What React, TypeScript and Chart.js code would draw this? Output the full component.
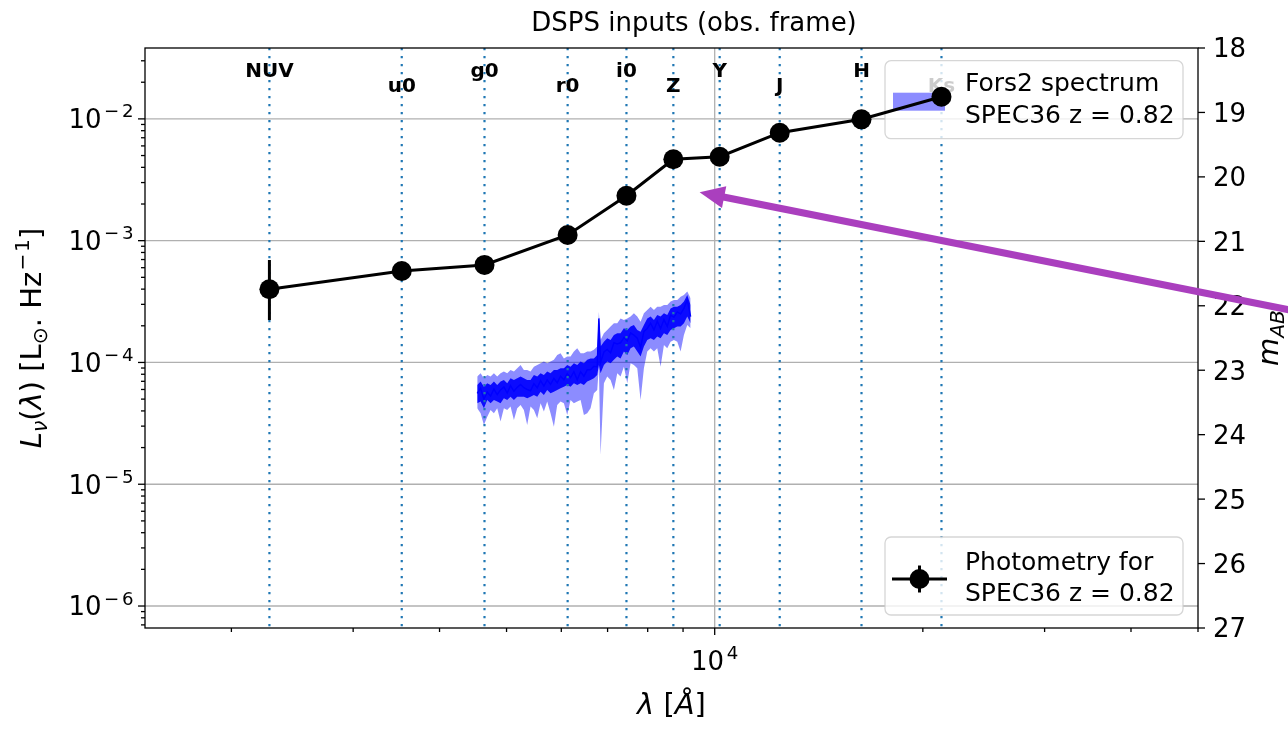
import React, { useEffect, useRef } from 'react';
import { Chart, registerables } from 'chart.js';

Chart.register(...registerables);

// ---------- axis ranges ----------
const X_MIN = 1500;
const X_MAX = 50000;
const Y_MIN = 6.6e-7;
const Y_MAX = 0.0382;
const MAG_MIN = 18;
const MAG_MAX = 27;

// ---------- filters ----------
const FILTER_NAMES = ['NUV', 'u0', 'g0', 'r0', 'i0', 'Z', 'Y', 'J', 'H', 'Ks'];
const FILTER_WL = [2270, 3527, 4646, 6128, 7454, 8714, 10167, 12418, 16305, 21280];
const FILTER_LABEL_Y = [0.0222, 0.01672, 0.0222, 0.01672, 0.0222, 0.01672, 0.0222, 0.01672, 0.0222, 0.01672];

// ---------- photometry ----------
const PHOT_LNU = [3.99e-4, 5.64e-4, 6.32e-4, 1.114e-3, 2.34e-3, 4.66e-3, 4.89e-3, 7.7e-3, 9.92e-3, 1.52e-2];
const PHOT_ERR_DN = [2.23e-4, 5.1e-4, 5.7e-4, 1.0e-3, 2.1e-3, 4.2e-3, 4.4e-3, 6.9e-3, 8.9e-3, 1.37e-2];
const PHOT_ERR_UP = [6.94e-4, 6.2e-4, 7.0e-4, 1.23e-3, 2.6e-3, 5.1e-3, 5.4e-3, 8.5e-3, 1.09e-2, 1.67e-2];

// ---------- Fors2 spectrum ----------
const SPEC_WL = [
  4535, 4586, 4637, 4689, 4741, 4794, 4847, 4901, 4956, 5011,
  5067, 5124, 5181, 5239, 5297, 5356, 5416, 5477, 5538, 5600,
  5662, 5725, 5789, 5854, 5919, 5985, 6052, 6120, 6188, 6257,
  6327, 6398, 6469, 6541, 6614, 6688, 6763, 6800, 6838, 6915,
  6992, 7070, 7149, 7229, 7309, 7391, 7474, 7557, 7641, 7727,
  7813, 7900, 7989, 8078, 8168, 8259, 8351, 8445, 8539, 8634,
  8731, 8828, 8927, 9026, 9127, 9229,
];
// central trace
const SPEC_LNU = [
  5.58e-5, 6.14e-5, 5.0e-5, 5.7e-5, 5.3e-5, 6.05e-5, 5.45e-5, 5.95e-5, 6.3e-5, 5.6e-5,
  6.45e-5, 5.8e-5, 6.25e-5, 6.6e-5, 6.2e-5, 6.0e-5, 5.85e-5, 6.7e-5, 6.2e-5, 7.1e-5,
  6.4e-5, 7.2e-5, 6.6e-5, 7.4e-5, 6.8e-5, 7.7e-5, 7.2e-5, 8.1e-5, 7.5e-5, 8.4e-5,
  7.2e-5, 8.4e-5, 7.7e-5, 8.7e-5, 8.7e-5, 9.3e-5, 9.2e-5, 2.3e-4, 1.0e-4, 1.22e-4,
  1.28e-4, 1.2e-4, 1.45e-4, 1.42e-4, 1.45e-4, 1.6e-4, 1.5e-4, 1.75e-4, 1.68e-4, 1.58e-4,
  1.33e-4, 1.8e-4, 1.9e-4, 2.1e-4, 1.85e-4, 2.18e-4, 1.9e-4, 2.25e-4, 1.98e-4, 2.45e-4,
  2.35e-4, 2.6e-4, 2.5e-4, 2.78e-4, 3.26e-4, 2.38e-4,
];
// envelope of the noisy flux trace
const SPEC_TRACE_UP = [
  6.54e-5, 6.96e-5, 6.33e-5, 6.75e-5, 6.54e-5, 6.96e-5, 6.54e-5, 6.96e-5, 7.18e-5, 6.75e-5,
  7.41e-5, 7.18e-5, 7.41e-5, 7.65e-5, 7.41e-5, 7.18e-5, 7.18e-5, 7.9e-5, 7.65e-5, 8.15e-5,
  7.9e-5, 8.41e-5, 8.15e-5, 8.68e-5, 8.68e-5, 8.96e-5, 8.96e-5, 9.54e-5, 9.24e-5, 9.84e-5,
  9.54e-5, 1.02e-4, 9.84e-5, 1.05e-4, 1.08e-4, 1.08e-4, 1.15e-4, 2.3e-4, 1.35e-4, 1.48e-4,
  1.58e-4, 1.53e-4, 1.68e-4, 1.74e-4, 1.74e-4, 1.91e-4, 1.85e-4, 1.97e-4, 2.03e-4, 1.85e-4,
  1.79e-4, 2.03e-4, 2.3e-4, 2.38e-4, 2.23e-4, 2.45e-4, 2.38e-4, 2.53e-4, 2.45e-4, 2.78e-4,
  2.87e-4, 2.87e-4, 2.97e-4, 3.16e-4, 3.58e-4, 2.97e-4,
];
const SPEC_TRACE_DN = [
  4.62e-5, 4.77e-5, 4.2e-5, 4.92e-5, 4.62e-5, 4.92e-5, 4.77e-5, 4.62e-5, 5.08e-5, 4.92e-5,
  5.24e-5, 4.92e-5, 5.24e-5, 5.24e-5, 5.24e-5, 5.08e-5, 5.24e-5, 5.41e-5, 5.24e-5, 5.76e-5,
  5.41e-5, 5.95e-5, 5.58e-5, 5.76e-5, 5.95e-5, 6.14e-5, 6.33e-5, 6.54e-5, 6.33e-5, 6.75e-5,
  6.54e-5, 6.75e-5, 6.54e-5, 6.96e-5, 7.18e-5, 7.41e-5, 7.9e-5, 9.54e-5, 8.15e-5, 9.54e-5,
  1.02e-4, 9.84e-5, 1.05e-4, 1.12e-4, 1.08e-4, 1.23e-4, 1.15e-4, 1.31e-4, 1.35e-4, 1.23e-4,
  1.12e-4, 1.35e-4, 1.53e-4, 1.58e-4, 1.53e-4, 1.63e-4, 1.58e-4, 1.74e-4, 1.68e-4, 1.85e-4,
  1.91e-4, 1.97e-4, 1.97e-4, 2.1e-4, 2.38e-4, 2.1e-4,
];
// error band
const SPEC_ERR_UP = [
  7.65e-5, 8.15e-5, 7.41e-5, 7.9e-5, 7.65e-5, 8.15e-5, 7.65e-5, 8.15e-5, 8.41e-5, 8.15e-5,
  8.68e-5, 8.41e-5, 8.96e-5, 9.54e-5, 8.68e-5, 8.68e-5, 8.41e-5, 9.24e-5, 9.54e-5, 9.84e-5,
  1.02e-4, 9.84e-5, 1.02e-4, 1.05e-4, 1.15e-4, 1.19e-4, 1.08e-4, 1.12e-4, 1.12e-4, 1.23e-4,
  1.31e-4, 1.19e-4, 1.19e-4, 1.23e-4, 1.23e-4, 1.27e-4, 1.35e-4, 2.61e-4, 1.53e-4, 1.74e-4,
  1.85e-4, 1.97e-4, 2.1e-4, 2.1e-4, 2.3e-4, 2.23e-4, 2.3e-4, 2.38e-4, 2.53e-4, 2.38e-4,
  2.16e-4, 2.53e-4, 2.7e-4, 2.87e-4, 2.7e-4, 2.87e-4, 2.87e-4, 2.97e-4, 2.97e-4, 3.16e-4,
  3.26e-4, 3.26e-4, 3.47e-4, 3.58e-4, 3.82e-4, 3.36e-4,
];
const SPEC_ERR_DN = [
  4.2e-5, 3.82e-5, 3.07e-5, 3.59e-5, 4.07e-5, 3.82e-5, 4.2e-5, 3.27e-5, 4.2e-5, 4.07e-5,
  4.34e-5, 3.37e-5, 4.2e-5, 4.48e-5, 4.07e-5, 3.07e-5, 4.34e-5, 4.07e-5, 3.48e-5, 4.62e-5,
  3.95e-5, 4.77e-5, 3.82e-5, 2.97e-5, 4.48e-5, 4.77e-5, 4.62e-5, 3.71e-5, 4.92e-5, 4.62e-5,
  4.77e-5, 4.92e-5, 3.71e-5, 3.82e-5, 4.2e-5, 5.58e-5, 5.95e-5, 9.24e-5, 1.74e-5, 6.75e-5,
  7.65e-5, 7.18e-5, 5.95e-5, 8.15e-5, 7.65e-5, 9.24e-5, 6.75e-5, 9.84e-5, 9.54e-5, 8.96e-5,
  4.92e-5, 8.96e-5, 1.23e-4, 1.31e-4, 1.23e-4, 1.31e-4, 9.24e-5, 1.39e-4, 1.31e-4, 1.48e-4,
  1.53e-4, 1.48e-4, 1.23e-4, 1.68e-4, 2.03e-4, 1.91e-4,
];

// ---------- ticks ----------
const Y_MAJOR = [1e-6, 1e-5, 1e-4, 1e-3, 1e-2];
const Y_MAJOR_EXP = ['6', '5', '4', '3', '2'];
const X_MAJOR = [10000];
const X_MAJOR_EXP = ['4'];
const X_MINOR = [2000, 3000, 4000, 5000, 6000, 7000, 8000, 9000, 20000, 30000, 40000, 50000];
const MAG_TICKS = [18, 19, 20, 21, 22, 23, 24, 25, 26, 27];

// ---------- texts ----------
const TITLE = 'DSPS inputs (obs. frame)';
const LEGEND_SPEC = ['Fors2 spectrum', 'SPEC36 z = 0.82'];
const LEGEND_PHOT = ['Photometry for', 'SPEC36 z = 0.82'];

// ---------- annotation arrow (data coords) ----------
const ARROW_TAIL = { wl: 98000, lnu: 1.78e-4 };
const ARROW_TIP = { wl: 9510, lnu: 2.5e-3 };

const FONT = '"DejaVu Sans"';
const SPEC_BLUE = '#0000ff';
const TRACE_BLUE = 'rgba(0,0,255,0.92)';
const BAND_BLUE = 'rgba(0,0,255,0.45)';
const FILTER_BLUE = '#1f77b4';
const ARROW_COLOR = '#aa3fbe';
const MINUS = '\u2212';

type Seg = { t: string; st?: string; sc?: number; dy?: number; pre?: number; post?: number };

function fontOf(s: Seg, size: number) {
  const st = s.st === 'i' ? 'italic ' : s.st === 'b' ? 'bold ' : '';
  return `${st}${size * (s.sc ?? 1)}px ${FONT}`;
}

function drawRich(ctx: CanvasRenderingContext2D, segs: Seg[], x: number, y: number, align: string, size: number) {
  const widths = segs.map((s) => {
    ctx.font = fontOf(s, size);
    return ctx.measureText(s.t).width + ((s.pre ?? 0) + (s.post ?? 0)) * size;
  });
  const total = widths.reduce((a, b) => a + b, 0);
  let cx = align === 'center' ? x - total / 2 : align === 'right' ? x - total : x;
  ctx.textAlign = 'left';
  ctx.textBaseline = 'alphabetic';
  segs.forEach((s, i) => {
    ctx.font = fontOf(s, size);
    ctx.fillText(s.t, cx + (s.pre ?? 0) * size, y + (s.dy ?? 0) * size);
    cx += widths[i];
  });
}

function sciSegs(exp: string, negative: boolean): Seg[] {
  const segs: Seg[] = [{ t: '10' }];
  if (negative) {
    segs.push({ t: MINUS, sc: 0.7, dy: -0.42, pre: 0.1, post: 0.1 });
    segs.push({ t: exp, sc: 0.7, dy: -0.42, post: 0.02 });
  } else {
    segs.push({ t: exp, sc: 0.7, dy: -0.42, pre: 0.1 });
  }
  return segs;
}

function legendFrame(ctx: CanvasRenderingContext2D, x: number, y: number, w: number, h: number) {
  ctx.beginPath();
  (ctx as any).roundRect(x, y, w, h, 6);
  ctx.fillStyle = 'rgba(255,255,255,0.8)';
  ctx.fill();
  ctx.strokeStyle = 'rgba(204,204,204,0.8)';
  ctx.lineWidth = 1.3;
  ctx.stroke();
}

const LEG_W = 298;
const LEG_H = 78;

const customPlugin = {
  id: 'customDraw',
  beforeDatasetsDraw(chart: any) {
    const { ctx, chartArea: a, scales } = chart;
    const x = scales.x;
    const y = scales.y;
    ctx.save();
    ctx.strokeStyle = '#b0b0b0';
    ctx.lineWidth = 1.3;
    Y_MAJOR.forEach((v) => {
      const py = y.getPixelForValue(v);
      ctx.beginPath();
      ctx.moveTo(a.left, py);
      ctx.lineTo(a.right, py);
      ctx.stroke();
    });
    X_MAJOR.forEach((v) => {
      const px = x.getPixelForValue(v);
      ctx.beginPath();
      ctx.moveTo(px, a.top);
      ctx.lineTo(px, a.bottom);
      ctx.stroke();
    });
    ctx.restore();
  },
  beforeDatasetDraw(chart: any, args: any) {
    if (args.index !== 0) return;
    const { ctx, chartArea: a, scales } = chart;
    const x = scales.x;
    const y = scales.y;
    ctx.save();
    // filter lines
    ctx.strokeStyle = FILTER_BLUE;
    ctx.lineWidth = 2.2;
    ctx.setLineDash([2.2, 5.8]);
    FILTER_WL.forEach((w) => {
      const px = x.getPixelForValue(w);
      ctx.beginPath();
      ctx.moveTo(px, a.top);
      ctx.lineTo(px, a.bottom);
      ctx.stroke();
    });
    ctx.setLineDash([]);
    // filter labels
    ctx.fillStyle = '#000';
    ctx.font = `bold 20px ${FONT}`;
    ctx.textAlign = 'center';
    ctx.textBaseline = 'alphabetic';
    FILTER_NAMES.forEach((n, i) => {
      ctx.fillText(n, x.getPixelForValue(FILTER_WL[i]), y.getPixelForValue(FILTER_LABEL_Y[i]));
    });
    // legend of the spectrum
    const lx = a.right - 15 - LEG_W;
    const ly = a.top + 12.7;
    legendFrame(ctx, lx, ly, LEG_W, LEG_H);
    ctx.fillStyle = BAND_BLUE;
    ctx.fillRect(lx + 8, ly + 32, 52, 18);
    ctx.fillStyle = '#000';
    ctx.font = `25px ${FONT}`;
    ctx.textAlign = 'left';
    ctx.fillText(LEGEND_SPEC[0], lx + 80, ly + 30);
    ctx.fillText(LEGEND_SPEC[1], lx + 80, ly + 62);
    // error bars of photometry
    ctx.strokeStyle = '#000';
    ctx.lineWidth = 3;
    FILTER_WL.forEach((w, i) => {
      const px = x.getPixelForValue(w);
      ctx.beginPath();
      ctx.moveTo(px, y.getPixelForValue(PHOT_ERR_DN[i]));
      ctx.lineTo(px, y.getPixelForValue(PHOT_ERR_UP[i]));
      ctx.stroke();
    });
    ctx.restore();
  },
  afterDatasetsDraw(chart: any) {
    const { ctx, chartArea: a, scales } = chart;
    const x = scales.x;
    const y = scales.y;
    const m = scales.y2;
    ctx.save();
    ctx.strokeStyle = '#000';
    ctx.fillStyle = '#000';
    ctx.lineWidth = 1.3;
    // spines
    ctx.strokeRect(a.left, a.top, a.right - a.left, a.bottom - a.top);
    const tick = (x0: number, y0: number, x1: number, y1: number) => {
      ctx.beginPath();
      ctx.moveTo(x0, y0);
      ctx.lineTo(x1, y1);
      ctx.stroke();
    };
    // left ticks
    Y_MAJOR.forEach((v) => {
      const py = y.getPixelForValue(v);
      tick(a.left, py, a.left - 7, py);
    });
    for (let e = -7; e <= -2; e++) {
      for (let k = 2; k <= 9; k++) {
        const v = k * Math.pow(10, e);
        if (v < Y_MIN || v > Y_MAX) continue;
        const py = y.getPixelForValue(v);
        tick(a.left, py, a.left - 4, py);
      }
    }
    // bottom ticks
    X_MAJOR.forEach((v) => {
      const px = x.getPixelForValue(v);
      tick(px, a.bottom, px, a.bottom + 7);
    });
    X_MINOR.forEach((v) => {
      const px = x.getPixelForValue(v);
      tick(px, a.bottom, px, a.bottom + 4);
    });
    // right ticks
    MAG_TICKS.forEach((v) => {
      const py = m.getPixelForValue(v);
      tick(a.right, py, a.right + 7, py);
    });
    // tick labels
    const TS = 26;
    Y_MAJOR.forEach((v, i) => {
      const py = y.getPixelForValue(v);
      drawRich(ctx, sciSegs(Y_MAJOR_EXP[i], true), a.left - 11, py + 9.4, 'right', TS);
    });
    X_MAJOR.forEach((v, i) => {
      const px = x.getPixelForValue(v);
      drawRich(ctx, sciSegs(X_MAJOR_EXP[i], false), px, a.bottom + 42, 'center', TS);
    });
    ctx.font = `${TS}px ${FONT}`;
    ctx.textAlign = 'left';
    ctx.textBaseline = 'alphabetic';
    MAG_TICKS.forEach((v) => {
      const py = m.getPixelForValue(v);
      ctx.fillText(String(v), a.right + 15, py + 9.4);
    });
    // title (centred on the full figure, which extends past the crop)
    const cy = (a.top + a.bottom) / 2;
    const cx = (a.left + a.right) / 2;
    ctx.font = `26px ${FONT}`;
    ctx.textAlign = 'center';
    ctx.fillText(TITLE, a.left + 549, a.top - 17);
    // x label
    const LS = 29;
    drawRich(ctx, [{ t: '\u03bb', st: 'i' }, { t: ' [' }, { t: '\u00c5', st: 'i' }, { t: ']' }], cx, a.bottom + 86, 'center', LS);
    // y label
    ctx.save();
    ctx.translate(41, cy);
    ctx.rotate(-Math.PI / 2);
    drawRich(
      ctx,
      [
        { t: 'L', st: 'i' },
        { t: '\u03bd', st: 'i', sc: 0.7, dy: 0.22 },
        { t: '(' },
        { t: '\u03bb', st: 'i' },
        { t: ') [L' },
        { t: '\u2299', sc: 0.7, dy: 0.22 },
        { t: '. Hz' },
        { t: MINUS, sc: 0.7, dy: -0.42, pre: 0.05, post: 0.05 },
        { t: '1', sc: 0.7, dy: -0.42 },
        { t: ']' },
      ],
      0,
      0,
      'center',
      LS
    );
    ctx.restore();
    // right label
    ctx.save();
    ctx.translate(a.right + 80, cy);
    ctx.rotate(-Math.PI / 2);
    drawRich(ctx, [{ t: 'm', st: 'i' }, { t: 'AB', st: 'i', sc: 0.7, dy: 0.22 }], 0, 0, 'center', LS);
    ctx.restore();
    // photometry legend
    const lx = a.right - 15 - LEG_W;
    const ly = a.bottom - 13 - LEG_H;
    legendFrame(ctx, lx, ly, LEG_W, LEG_H);
    ctx.strokeStyle = '#000';
    ctx.fillStyle = '#000';
    ctx.lineWidth = 3;
    tick(lx + 7, ly + 42, lx + 62, ly + 42);
    tick(lx + 34.5, ly + 28.5, lx + 34.5, ly + 55.5);
    ctx.beginPath();
    ctx.arc(lx + 34.5, ly + 42, 10, 0, Math.PI * 2);
    ctx.fill();
    ctx.font = `25px ${FONT}`;
    ctx.textAlign = 'left';
    ctx.fillText(LEGEND_PHOT[0], lx + 80, ly + 33);
    ctx.fillText(LEGEND_PHOT[1], lx + 80, ly + 63.5);
    ctx.restore();
  },
  afterDraw(chart: any) {
    const { ctx, scales } = chart;
    const x = scales.x;
    const y = scales.y;
    const tx = x.getPixelForValue(ARROW_TAIL.wl);
    const ty = y.getPixelForValue(ARROW_TAIL.lnu);
    const hx = x.getPixelForValue(ARROW_TIP.wl);
    const hy = y.getPixelForValue(ARROW_TIP.lnu);
    const ang = Math.atan2(hy - ty, hx - tx);
    const headLen = 25;
    const headW = 11;
    const bx = hx - headLen * Math.cos(ang);
    const by = hy - headLen * Math.sin(ang);
    ctx.save();
    ctx.strokeStyle = ARROW_COLOR;
    ctx.fillStyle = ARROW_COLOR;
    ctx.lineWidth = 7;
    ctx.beginPath();
    ctx.moveTo(tx, ty);
    ctx.lineTo(bx + 2 * Math.cos(ang), by + 2 * Math.sin(ang));
    ctx.stroke();
    ctx.beginPath();
    ctx.moveTo(hx, hy);
    ctx.lineTo(bx + headW * Math.sin(ang), by - headW * Math.cos(ang));
    ctx.lineTo(bx - headW * Math.sin(ang), by + headW * Math.cos(ang));
    ctx.closePath();
    ctx.fill();
    ctx.restore();
  },
};

function pts(ys: number[]) {
  return SPEC_WL.map((w, i) => ({ x: w, y: ys[i] }));
}

export default function App() {
  const ref = useRef<HTMLCanvasElement>(null);
  useEffect(() => {
    document.body.style.margin = '0';
    const canvas = ref.current;
    if (!canvas) return;
    const phot = FILTER_WL.map((w, i) => ({ x: w, y: PHOT_LNU[i] }));
    const base = { pointRadius: 0, tension: 0, yAxisID: 'y' };
    const chart = new Chart(canvas, {
      type: 'line',
      data: {
        datasets: [
          {
            label: 'phot',
            data: phot,
            borderColor: '#000',
            borderWidth: 3,
            pointRadius: 10,
            pointBackgroundColor: '#000',
            pointBorderWidth: 0,
            pointHoverRadius: 10,
            tension: 0,
            fill: false,
            order: 0,
            yAxisID: 'y',
          },
          { ...base, label: 'spec', data: pts(SPEC_LNU), borderColor: SPEC_BLUE, borderWidth: 1.5, fill: false, order: 1 },
          {
            ...base,
            label: 'traceUp',
            data: pts(SPEC_TRACE_UP),
            borderWidth: 0,
            borderColor: 'rgba(0,0,0,0)',
            backgroundColor: TRACE_BLUE,
            fill: '+1',
            order: 2,
          },
          { ...base, label: 'traceDn', data: pts(SPEC_TRACE_DN), borderWidth: 0, borderColor: 'rgba(0,0,0,0)', fill: false, order: 3 },
          {
            ...base,
            label: 'errUp',
            data: pts(SPEC_ERR_UP),
            borderWidth: 0,
            borderColor: 'rgba(0,0,0,0)',
            backgroundColor: BAND_BLUE,
            fill: '+1',
            order: 4,
          },
          { ...base, label: 'errDn', data: pts(SPEC_ERR_DN), borderWidth: 0, borderColor: 'rgba(0,0,0,0)', fill: false, order: 5 },
        ],
      } as any,
      options: {
        responsive: false,
        animation: false,
        devicePixelRatio: 1,
        events: [],
        layout: { padding: { left: 145, right: 90, top: 48, bottom: 102 } },
        plugins: { legend: { display: false }, tooltip: { enabled: false }, title: { display: false } },
        scales: {
          x: {
            type: 'logarithmic',
            display: false,
            min: X_MIN,
            max: X_MAX,
            bounds: 'data',
            afterBuildTicks: (s: any) => {
              s.min = X_MIN;
              s.max = X_MAX;
            },
          },
          y: {
            type: 'logarithmic',
            display: false,
            min: Y_MIN,
            max: Y_MAX,
            bounds: 'data',
            afterBuildTicks: (s: any) => {
              s.min = Y_MIN;
              s.max = Y_MAX;
            },
          },
          y2: {
            type: 'linear',
            display: false,
            position: 'right',
            min: MAG_MIN,
            max: MAG_MAX,
            reverse: true,
          },
        },
      } as any,
      plugins: [customPlugin],
    });
    return () => chart.destroy();
  }, []);
  return <canvas ref={ref} width={1288} height={730} style={{ display: 'block', width: 1288, height: 730 }} />;
}
